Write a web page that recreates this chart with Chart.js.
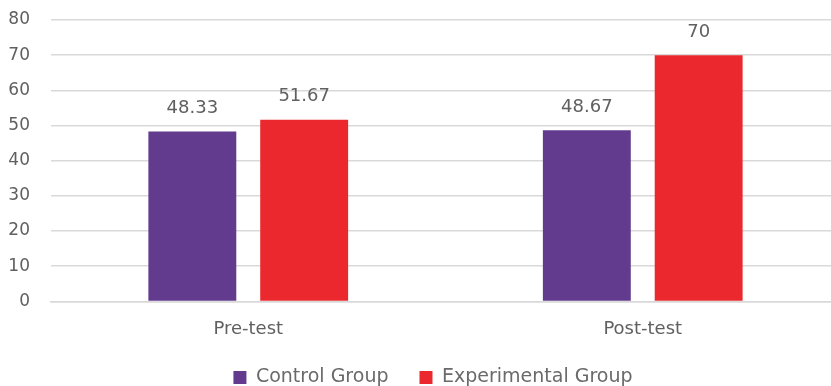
<!DOCTYPE html>
<html>
<head>
<meta charset="utf-8">
<script src="https://cdn.jsdelivr.net/npm/chart.js@4/dist/chart.umd.min.js"></script>
<style>
  html, body { margin: 0; padding: 0; background: #fff; overflow: hidden; }
  #wrap { position: relative; width: 866px; height: 386px; }
</style>
</head>
<body>
<div id="wrap"><canvas id="chart"></canvas></div>
<script>
// chart data
const categories = ['Pre-test', 'Post-test'];
const controlScores = [48.33, 48.67];
const experimentalScores = [51.67, 70];
const seriesNames = ['Control Group', 'Experimental Group'];
const yTicks = [0, 10, 20, 30, 40, 50, 60, 70, 80];

const PURPLE = '#623b8f';
const RED = '#ea282d';
const TEXT = '#606060';
const FONT = '"DejaVu Sans", sans-serif';

// value labels above each bar
const barLabels = {
  id: 'barLabels',
  afterDatasetsDraw(chart) {
    const ctx = chart.ctx;
    ctx.save();
    ctx.font = '18px ' + FONT;
    ctx.fillStyle = TEXT;
    ctx.textAlign = 'center';
    ctx.textBaseline = 'bottom';
    chart.data.datasets.forEach((ds, i) => {
      chart.getDatasetMeta(i).data.forEach((bar, j) => {
        ctx.fillText(String(ds.data[j]), bar.x, bar.y - 14);
      });
    });
    ctx.restore();
  }
};

// the source chart is clipped on its right, so move the legend to where it sat
const legendShift = {
  id: 'legendShift',
  afterLayout(chart) {
    const lg = chart.legend;
    lg.left += 13; lg.right += 13;
    lg.top -= 12; lg.bottom -= 12;
  }
};

new Chart(document.getElementById('chart'), {
  type: 'bar',
  data: {
    labels: categories,
    datasets: [
      { label: seriesNames[0], data: controlScores, backgroundColor: PURPLE },
      { label: seriesNames[1], data: experimentalScores, backgroundColor: RED },
    ],
  },
  options: {
    responsive: true,
    maintainAspectRatio: false,
    animation: false,
    layout: { padding: { top: 20, left: 0, right: 26, bottom: -23 } },
    datasets: { bar: { categoryPercentage: 0.567, barPercentage: 0.786 } },
    plugins: {
      legend: {
        position: 'bottom',
        labels: {
          color: '#6a6a6a',
          font: { family: FONT, size: 19 },
          boxWidth: 13,
          boxHeight: 13,
          padding: 31,
        },
      },
      tooltip: { enabled: false },
    },
    scales: {
      x: {
        grid: { display: false },
        border: { display: true, color: '#d9d9d9', width: 1.5 },
        ticks: { color: TEXT, font: { family: FONT, size: 18 }, padding: 9 },
      },
      y: {
        min: 0,
        max: 80,
        afterBuildTicks: (axis) => { axis.ticks = yTicks.map(v => ({ value: v })); },
        afterFit: (axis) => { axis.width = 51; axis.paddingTop = 0; axis.paddingBottom = 0; },
        grid: { color: '#d9d9d9', lineWidth: 1.5, drawTicks: false },
        border: { display: false },
        ticks: { color: TEXT, font: { family: FONT, size: 17 }, padding: 21 },
      },
    },
  },
  plugins: [barLabels, legendShift],
});
</script>
</body>
</html>
